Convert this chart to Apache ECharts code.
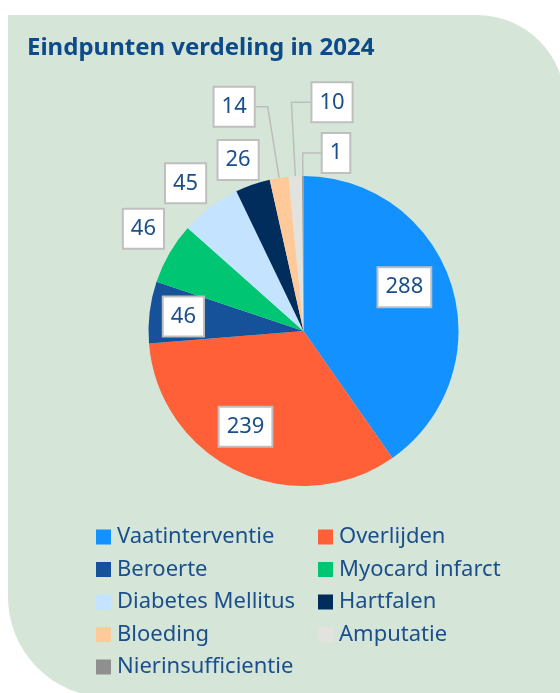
<!DOCTYPE html>
<html>
<head>
<meta charset="utf-8">
<title>Eindpunten verdeling in 2024</title>
<script src="https://cdn.jsdelivr.net/npm/echarts@6/dist/echarts.min.js"></script>
<style>
  html, body { margin: 0; padding: 0; background: #fff; }
  #pieChart { width: 560px; height: 693px; }
</style>
</head>
<body>
<div id="pieChart"></div>
<script>
// data
const categories = ['Vaatinterventie', 'Overlijden', 'Beroerte', 'Myocard infarct', 'Diabetes Mellitus',
  'Hartfalen', 'Bloeding', 'Amputatie', 'Nierinsufficientie']
const counts = [288, 239, 46, 46, 45, 26, 14, 10, 1]
const sliceColors = ['#1391ff', '#ff6037', '#15529a', '#00c673', '#c4e3ff', '#002d5c', '#ffc999', '#e2e2de', '#8f8f8f']

const textBlue = '#1b4f8c'
const cx = 303.5
const cy = 331
const R = 155

// where each label sits: d = distance from centre, da = angle nudge (deg),
// line = [radial length, horizontal length, side]
const labelPlace = [
  { d: 110, da: -6 }, { d: 112, da: 6 }, { d: 121 },
  { d: 190, da: 2.5 }, { d: 189, da: -1.6 }, { d: 183, da: -1.8 },
  { line: [72, 12, -1] }, { line: [74, 19, 1] }, { line: [23, 18, 1] }
]

// middle angle of every slice, clockwise from 12 o'clock
const total = counts.reduce((a, b) => a + b, 0)
const midAngle = []
let acc = 0
counts.forEach(v => {
  midAngle.push((acc + v / 2) / total * 360)
  acc += v
})

const chart = echarts.init(document.getElementById('pieChart'))

const legendStyle = {
  orient: 'vertical',
  top: 525,
  padding: 0,
  itemWidth: 15,
  itemHeight: 15,
  itemGap: 8.5,
  icon: 'rect',
  selectedMode: false,
  textStyle: { color: textBlue, fontSize: 22, lineHeight: 24, fontFamily: 'Noto Sans', padding: [0, 0, 0, 1] }
}

const option = {
  backgroundColor: '#fff',
  color: sliceColors,
  animation: false,
  graphic: [{
    type: 'rect',
    z: -10,
    silent: true,
    shape: { x: 8, y: 15, width: 557, height: 682, r: [0, 88, 0, 100] },
    style: { fill: '#d5e6d8' }
  }],
  title: {
    text: 'Eindpunten verdeling in 2024',
    left: 22,
    top: 31,
    textStyle: { color: '#0c4a8a', fontSize: 24, fontWeight: 'bold', fontFamily: 'Noto Sans' }
  },
  legend: [
    Object.assign({ left: 96, data: categories.filter((_, i) => i % 2 === 0) }, legendStyle),
    Object.assign({ left: 318, data: categories.filter((_, i) => i % 2 === 1) }, legendStyle)
  ],
  series: [{
    type: 'pie',
    center: [cx, cy],
    radius: R,
    startAngle: 90,
    clockwise: true,
    avoidLabelOverlap: false,
    label: {
      show: true,
      formatter: '{c}',
      color: textBlue,
      fontSize: 22,
      lineHeight: 24,
      fontFamily: 'Noto Sans',
      backgroundColor: '#fff',
      borderColor: '#bfbfbf',
      borderWidth: 2,
      padding: [7, 7]
    },
    labelLine: { lineStyle: { color: '#bdbdbd', width: 1.5 } },
    labelLayout: function (p) {
      const pl = labelPlace[p.dataIndex]
      const a = (midAngle[p.dataIndex] + (pl.da || 0)) * Math.PI / 180
      const s = Math.sin(a)
      const c = Math.cos(a)
      if (!pl.line) {
        return { x: cx + pl.d * s, y: cy - pl.d * c, align: 'center', verticalAlign: 'middle' }
      }
      const len = pl.line[0]
      const len2 = pl.line[1]
      const side = pl.line[2]
      const p0 = [cx + R * s, cy - R * c]
      const p1 = [cx + (R + len) * s, cy - (R + len) * c]
      const p2 = [p1[0] + side * len2, p1[1]]
      return {
        x: p2[0] + side * p.labelRect.width / 2,
        y: p2[1],
        align: 'center',
        verticalAlign: 'middle',
        labelLinePoints: [p0, p1, p2]
      }
    },
    data: categories.map((name, i) => ({
      name: name,
      value: counts[i],
      label: { position: labelPlace[i].line ? 'outside' : 'inside' },
      labelLine: { show: !!labelPlace[i].line }
    }))
  }]
}

chart.setOption(option)
</script>
</body>
</html>
